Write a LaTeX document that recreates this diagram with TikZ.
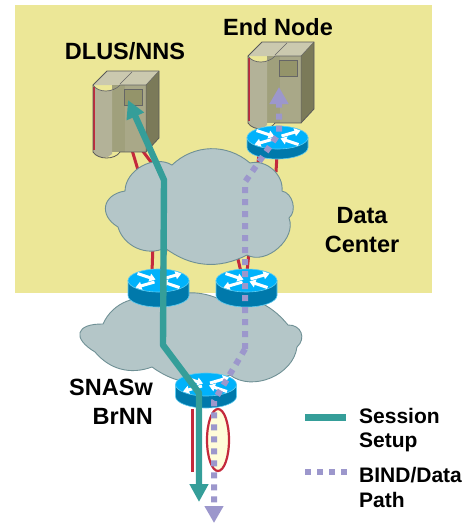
\documentclass[tikz,border=0pt]{standalone}
\usepackage{fontspec}
\setmainfont{Liberation Sans}
\usetikzlibrary{positioning,arrows.meta,shapes.geometric}
\definecolor{bgyel}{HTML}{ECE797}
\definecolor{cldf}{HTML}{B4C6C8}
\definecolor{cldd}{HTML}{6F9095}
\definecolor{lnkred}{HTML}{C42A3C}
\definecolor{teal1}{HTML}{359E99}
\definecolor{lav}{HTML}{9C97CC}
\definecolor{rtop}{HTML}{00B2FB}
\definecolor{rbody}{HTML}{0079AB}
\definecolor{rrim}{HTML}{5FCBEF}
\definecolor{srvtop}{HTML}{CBC9AF}
\definecolor{srvside}{HTML}{7B7A59}
\definecolor{srvfront}{HTML}{A9A888}
\definecolor{srvstrip}{HTML}{A0A07C}
\definecolor{srvcyl}{HTML}{B3B298}
\definecolor{srvpan}{HTML}{94946A}
\tikzset{
  lbl/.style={font=\fontsize{23.5}{28.5}\selectfont\bfseries, inner sep=0pt},
  leg/.style={font=\fontsize{21}{24.5}\selectfont\bfseries, inner sep=0pt, align=left},
  lnk/.style={draw=lnkred, line width=3pt},
  cld/.style={draw=cldd, fill=cldf, line width=0.9pt},
  sess/.style={draw=teal1, line width=6.4pt, {Triangle[width=18pt,length=18pt]}-{Triangle[width=18pt,length=18pt]}},
  bnd/.style={draw=lav, line width=6pt, dash pattern=on 6pt off 6pt, -{Triangle[width=18pt,length=17pt]}},
  server/.pic={
    \fill[srvtop] (0,14) -- (14,0) -- (66,0) -- (53,14) -- cycle;
    \fill[srvside] (53,14) -- (66,0) -- (66,67) -- (53,81) -- cycle;
    \fill[srvfront] (26,14) rectangle (53,81);
    \fill[srvstrip] (19,14) rectangle (32,81);
    \fill[srvcyl] (0,14) .. controls (5,22) and (20,22) .. (26,14) -- (19,20) -- (19,83) .. controls (15,88) and (5,88) .. (0,81) -- cycle;
    \draw[draw=lnkred, line width=2pt] (1,16) -- (1,79);
    \draw[draw=black!65, line width=0.8pt] (0,14) -- (14,0) -- (66,0) -- (66,67) -- (53,81) -- (27,81) .. controls (22,89) and (5,89) .. (0,81) -- cycle;
    \draw[draw=black!60, line width=0.5pt] (53,14) -- (53,81) (53,14) -- (66,0) (27,13) -- (39,1);
    \draw[draw=black!60, line width=0.7pt] (0,14) .. controls (5,22) and (20,22) .. (27,14) -- (53,14);
    \fill[fill=srvpan, draw=black!60, line width=0.8pt] (31,18) rectangle (49,34);
  },
  pics/router/.style={code={
    \fill[fill=rbody, draw=rrim, line width=0.6pt] (-30.5,0) -- (-30.5,#1) arc[start angle=180, end angle=0, x radius=30.5, y radius=11.5] -- (30.5,0) -- cycle;
    \fill[fill=rtop, draw=rrim, line width=0.6pt] (0,0) ellipse[x radius=30.5, y radius=11.5];
    \foreach \sx/\sy/\ex/\ey in {-21/-7/-3/-1, 21/7/3/1, 4/-1.5/23/-7, -4/1.5/-23/7}
      \draw[draw=white, line width=3pt, -{Triangle[width=8pt,length=6pt]}] (\sx,\sy) -- (\ex,\ey);
  }}
}
\begin{document}
\begin{tikzpicture}[x=1pt,y=-1pt]
	\useasboundingbox (0,0) rectangle (464,523);
	\fill[bgyel] (15,5) rectangle (432,293);

	% red links
	\coordinate (a1) at (132,150); \coordinate (a2) at (138,170);
	\coordinate (b1) at (142,150); \coordinate (b2) at (154,166);
	\coordinate (c1) at (259,155); \coordinate (c2) at (257,170);
	\coordinate (d1) at (277,155); \coordinate (d2) at (276,172);
	\coordinate (e1) at (153,245); \coordinate (e2) at (152,272);
	\coordinate (f1) at (167,245); \coordinate (f2) at (161,272);
	\coordinate (g1) at (237,255); \coordinate (g2) at (241,272);
	\coordinate (h1) at (249,252); \coordinate (h2) at (247,272);
	\foreach \p/\q in {a1/a2,b1/b2,c1/c2,d1/d2,e1/e2,f1/f2,g1/g2,h1/h2}
		\draw[lnk] (\p) -- (\q);

	% clouds
	\draw[cld] (172,165) to[bend left=42] (250,163) to[bend left=55] (282,191) to[bend left=65] (289,218)
		to[bend left=70] (247,255) to[bend left=32] (165,248) to[bend left=50] (118,227)
		to[bend left=70,looseness=1.6] (125,191) to[bend left=60] cycle;
	\draw[cld] (160,302) to[bend left=25] (217,298) to[bend left=30] (288,325) to[bend left=70,looseness=1.4] (297,347)
		to[bend left=60] (230,375) to[bend left=30] (152,367) to[bend left=35] (95,352)
		to[bend left=75,looseness=2.4] (103,324) to[bend left=45] cycle;

	% boxes
	\pic at (93,71) {server};
	\pic at (248,42) {server};
	\pic at (277.5,137.5) {router=10};
	\pic at (158.5,280.5) {router=15};
	\pic at (246.5,280.5) {router=15};
	\pic at (206,384.5) {router=12};

	% drop links
	\coordinate (t1) at (192,409); \coordinate (t2) at (192,472);
	\draw[lnk] (t1) -- (t2);
	\node[ellipse, draw=lnkred, fill=yellow!15, line width=2.2pt, minimum width=22pt, minimum height=62pt, inner sep=0pt] (seg) at (218,440) {};

	% paths
	\coordinate (s0) at (199,502); \coordinate (s1) at (199,393); \coordinate (s2) at (163,345);
	\coordinate (s3) at (164,180); \coordinate (s4) at (128,100);
	\draw[sess, line join=round] (s0) -- (s1) -- (s2) -- (s3) -- (s4);
	\coordinate (p0) at (214,523); \coordinate (p1) at (214,401); \coordinate (p2) at (245,349);
	\coordinate (p3) at (245,182); \coordinate (p4) at (279,133); \coordinate (p5) at (279,87);
	\draw[bnd] (p2) -- (p1) -- (p0);
	\draw[bnd] (p2) -- (p3) -- (p4) -- (p5);

	% labels
	\node[lbl] (dlus) at (125,51) {DLUS/NNS};
	\node[lbl] (endn) at (278,27) {End Node};
	\node[lbl, align=center] (dc) at (362,230) {Data\\Center};
	\node[lbl, align=right, anchor=east] (sna) at (153,402) {SNASw\\BrNN};

	% legend
	\coordinate (k1) at (305,417); \coordinate (k2) at (346,417);
	\coordinate (k3) at (305,472); \coordinate (k4) at (350,472);
	\draw[draw=teal1, line width=7pt] (k1) -- (k2);
	\draw[draw=lav, line width=6pt, dash pattern=on 6pt off 6pt] (k3) -- (k4);
	\node[leg, anchor=west] (sx) at (359,430) {Session\\Setup};
	\node[leg, below=15pt of sx.south west, anchor=north west] (bx) {BIND/Data\\Path};
\end{tikzpicture}
\end{document}
